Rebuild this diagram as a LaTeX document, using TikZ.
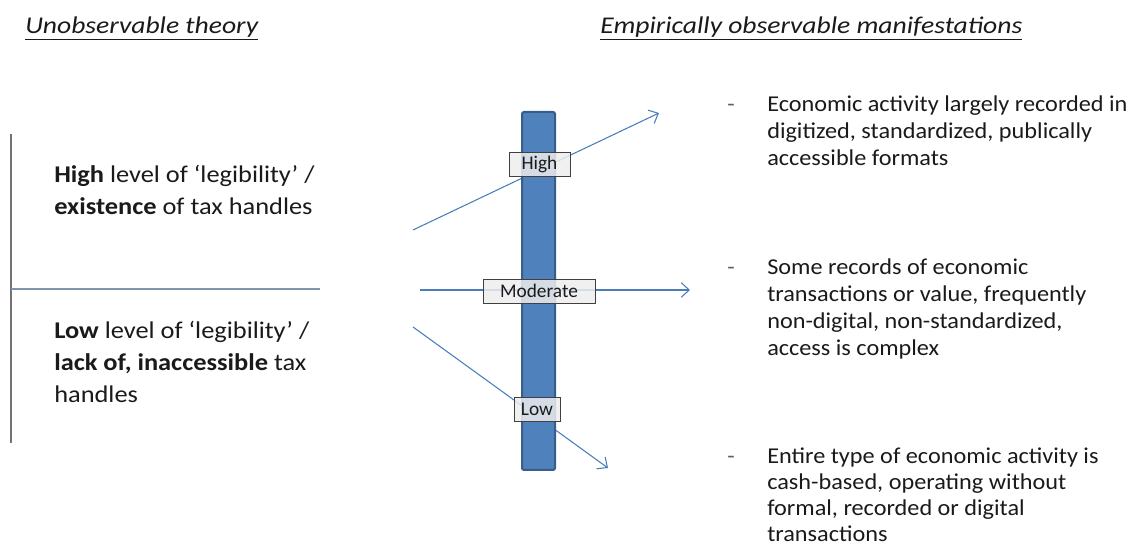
\documentclass[tikz,border=0pt]{standalone}
\usepackage{fontspec}
\setmainfont{Carlito}
\newfontfamily\headfont[FakeStretch=1.15]{Carlito}
\newfontfamily\theoryfont[FakeStretch=1.1]{Carlito}
\newfontfamily\maniffont[FakeStretch=1.07]{Carlito}
\usetikzlibrary{arrows.meta}
\definecolor{barfill}{HTML}{4F81BD}
\definecolor{barline}{HTML}{385D8A}
\definecolor{arrowc}{HTML}{4A7EBB}
\definecolor{sepline}{HTML}{8095AD}
\definecolor{txt}{HTML}{1A1A1A}
\newcommand{\topstrutA}{\rule{0pt}{14pt}}
\newcommand{\topstrutB}{\rule{0pt}{16pt}}
\tikzset{
  px/.style={x=0.75pt,y=-0.75pt},
  header/.style={anchor=base west,inner sep=0pt,font=\headfont\fontsize{18}{22}\selectfont\itshape,text=txt},
  theory/.style={anchor=north west,inner sep=0pt,align=left,font=\theoryfont\fontsize{18}{24}\selectfont,text=txt},
  manif/.style={anchor=north west,inner sep=0pt,align=left,font=\maniffont\fontsize{17}{20.4}\selectfont,text=txt},
  dashnode/.style={anchor=north west,inner sep=0pt,font=\maniffont\fontsize{17}{20.4}\selectfont,text=txt!70},
  scalebar/.style={draw=barline,line width=1.5pt,fill=barfill,rounded corners=1.5pt,minimum width=24.75pt,minimum height=268.5pt,inner sep=0pt},
  levelbox/.style={draw=black!75,line width=0.6pt,fill=white!93!black,fill opacity=0.85,text opacity=1,minimum height=18pt,inner sep=0pt,font=\fontsize{14.5}{16}\selectfont,text=txt},
  levelarrow/.style={draw=arrowc,line width=0.8pt,-{Straight Barb[length=6pt,width=11pt,line width=0.8pt]}},
  divider/.style={draw=sepline,line width=0.8pt},
}
\begin{document}
\begin{tikzpicture}[px]
\useasboundingbox (0,0) rectangle (1131,548);
% headers
\node[header] (h1) at (25,34) {\underline{Unobservable theory}};
\node[header] (h2) at (600,34) {\underline{Empirically observable manifestations}};
% left dividers
\coordinate (vt) at (11,134);
\coordinate (vb) at (11,443);
\coordinate (hl) at (11,289);
\coordinate (hr) at (320,289);
\draw[divider,draw=black!55] (vt) -- (vb);
\draw[divider] (hl) -- (hr);
% theory texts
\node[theory] (thigh) at (54,161.4) {\topstrutB\textbf{High} level of ‘legibility’ /\\\textbf{existence} of tax handles};
\node[theory] (tlow) at (54,316.7) {\topstrutB\textbf{Low} level of ‘legibility’ /\\\textbf{lack of, inaccessible} tax\\handles};
% arrows (behind bar)
\coordinate (a1s) at (413,230);
\coordinate (a1e) at (659,113);
\coordinate (a2s) at (420,290);
\coordinate (a2e) at (690,290);
\coordinate (a3s) at (413,327);
\coordinate (a3e) at (608,468);
\draw[levelarrow] (a1s) -- (a1e);
\draw[levelarrow] (a2s) -- (a2e);
\draw[levelarrow] (a3s) -- (a3e);
% bar
\node[scalebar] (bar) at (538.5,291) {};
% level labels
\node[levelbox,minimum width=45.75pt] (lhigh) at (539.5,164.5) {High};
\node[levelbox,minimum width=84pt] (lmod) at (539,291) {Moderate};
\node[levelbox,minimum width=34.5pt] (llow) at (537,409) {Low};
% manifestations
\node[dashnode] (d1) at (727,92.3) {\topstrutA-};
\node[manif] (m1) at (767,92.3) {\topstrutA Economic activity largely recorded in\\digitized, standardized, publically\\accessible formats};
\node[dashnode] (d2) at (727,255.3) {\topstrutA-};
\node[manif] (m2) at (767,255.3) {\topstrutA Some records of economic\\transactions or value, frequently\\non-digital, non-standardized,\\access is complex};
\node[dashnode] (d3) at (727,445) {\topstrutA-};
\node[manif,font=\maniffont\fontsize{17}{19.5}\selectfont] (m3) at (767,445) {\topstrutA Entire type of economic activity is\\cash-based, operating without\\formal, recorded or digital\\transactions};
\end{tikzpicture}
\end{document}
